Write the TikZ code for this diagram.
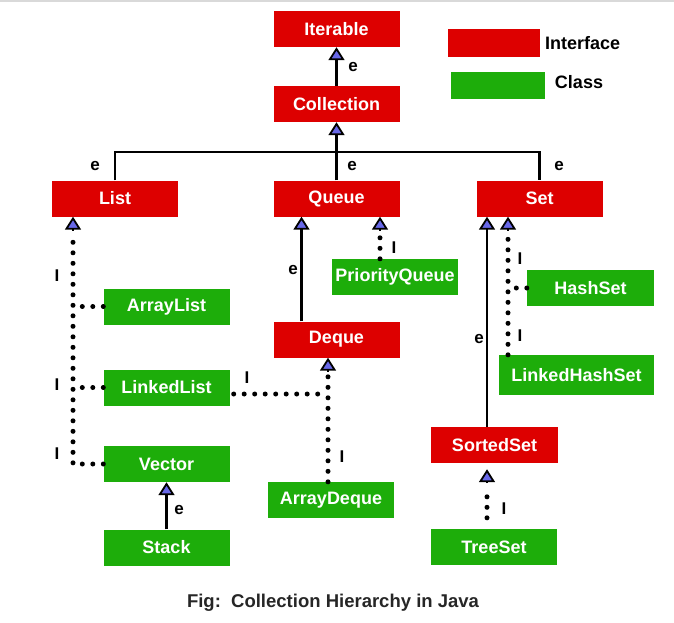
\documentclass[tikz,border=0pt]{standalone}
\usepackage{fontspec}
\setmainfont{Liberation Sans}
\usetikzlibrary{arrows.meta}

\definecolor{ifacered}{RGB}{221,0,0}
\definecolor{clsgreen}{RGB}{29,173,10}
\definecolor{triblue}{RGB}{104,104,232}

\tikzset{
  box/.style={draw=none, text=white, minimum width=126pt, minimum height=36pt,
    inner sep=0pt, font=\fontsize{18}{20}\selectfont\bfseries},
  iface/.style={box, fill=ifacered},
  cls/.style={box, fill=clsgreen},
  lbl/.style={inner sep=0pt, font=\fontsize{17}{19}\selectfont\bfseries},
  solidline/.style={line width=2.2pt},
  dotline/.style={line width=5pt, line cap=round, dash pattern=on 0pt off 10.5pt},
  tipline/.style={line width=1.8pt, -{Triangle[width=16pt,length=13pt,fill=triblue]}}
}

\begin{document}
\begin{tikzpicture}[x=1pt,y=-1pt]
\useasboundingbox (0,0) rectangle (674,622);

% thin rule at the top edge
\draw[black!15, line width=2pt] (0,1) -- (674,1);

% Top of the tree
\node[iface] (iter) at (336.5,29) {Iterable};
\node[iface] (coll) at (336.5,104) {Collection};

% Legend
\node[iface, minimum width=92pt, minimum height=28pt] (legi) at (494,43) {};
\node[lbl, anchor=west, font=\fontsize{18}{20}\selectfont\bfseries] (legitxt) at (545,43) {Interface};
\node[cls, minimum width=94pt, minimum height=27pt] (legc) at (498,85.5) {};
\node[lbl, font=\fontsize{18}{20}\selectfont\bfseries] (legctxt) at (579,82) {Class};

% Second level
\node[iface] (list) at (115,198.5) {List};
\node[iface] (queue) at (336.5,198.5) {Queue};
\node[iface] (set) at (539.5,198.5) {Set};

% List branch
\node[cls] (arraylist) at (166.5,306.5) {ArrayList};
\node[cls] (linkedlist) at (166.5,387.5) {LinkedList};
\node[cls] (vector) at (166.5,464) {Vector};
\node[cls] (stack) at (166.5,547.5) {Stack};

% Queue branch
\node[cls] (pqueue) at (395,277) {PriorityQueue};
\node[iface] (deque) at (336.5,339.5) {Deque};
\node[cls] (arraydeque) at (331,500) {ArrayDeque};

% Set branch
\node[cls, minimum width=127pt] (hashset) at (590.5,288) {HashSet};
\node[cls, minimum width=155pt, minimum height=40pt] (lhset) at (576.5,375) {LinkedHashSet};
\node[iface, minimum width=127pt] (sortedset) at (494.5,445) {SortedSet};
\node[cls] (treeset) at (494,547) {TreeSet};

% Caption
\node[lbl, font=\fontsize{18.5}{21}\selectfont\bfseries, text=black!85] (cap) at (333,603) {Fig:\ \ Collection Hierarchy in Java};

% Collection -> Iterable
\draw[solidline] (coll.north) -- ([yshift=-10pt]iter.south);
\draw[tipline] ([yshift=-14pt]iter.south) -- (iter.south);
\node[lbl] (e1) at (353,67) {e};

% List, Queue, Set -> Collection
\coordinate (bus) at (336.5,152);
\draw[solidline] (list.north) |- (bus) -| (set.north);
\draw[solidline] (queue.north) -- ([yshift=-10pt]coll.south);
\draw[tipline] ([yshift=-14pt]coll.south) -- (coll.south);
\node[lbl] (e2) at (95,166) {e};
\node[lbl] (e3) at (352,166) {e};
\node[lbl] (e4) at (559,166) {e};

% ArrayList, LinkedList, Vector -> List
\coordinate (lspine) at ([xshift=-42pt]list.south);
\draw[dotline] (vector.west) -| ([yshift=-19pt]lspine);
\draw[dotline] (arraylist.west) -- (lspine |- arraylist.west);
\draw[dotline] (linkedlist.west) -- (lspine |- linkedlist.west);
\draw[tipline] ([yshift=-14pt]lspine) -- (lspine);
\node[lbl] (i1) at (57,276) {I};
\node[lbl] (i2) at (57,385) {I};
\node[lbl] (i3) at (57,454) {I};

% Stack -> Vector
\draw[solidline] (stack.north) -- ([yshift=-10pt]vector.south);
\draw[tipline] ([yshift=-14pt]vector.south) -- (vector.south);
\node[lbl] (e5) at (179,510) {e};

% Deque -> Queue
\coordinate (qleft) at ([xshift=-35pt]queue.south);
\draw[solidline] (qleft |- deque.north) -- ([yshift=-10pt]qleft);
\draw[tipline] ([yshift=-14pt]qleft) -- (qleft);
\node[lbl] (e6) at (293,270) {e};

% PriorityQueue -> Queue
\coordinate (qright) at ([xshift=43.5pt]queue.south);
\draw[dotline] (qright |- pqueue.north) -- ([yshift=-19pt]qright);
\draw[tipline] ([yshift=-14pt]qright) -- (qright);
\node[lbl] (i4) at (394,248) {I};

% ArrayDeque, LinkedList -> Deque
\coordinate (dqin) at ([xshift=-8.5pt]deque.south);
\draw[dotline] (dqin |- arraydeque.north) -- ([yshift=-19pt]dqin);
\draw[tipline] ([yshift=-14pt]dqin) -- (dqin);
\coordinate (llout) at ([xshift=4pt,yshift=-6.5pt]linkedlist.east);
\coordinate (lljoin) at (dqin |- llout);
\draw[dotline] (llout) -- ([xshift=-8pt]lljoin);
\node[lbl] (i5) at (342,457) {I};
\node[lbl] (i6) at (247,378) {I};

% SortedSet -> Set
\coordinate (sleft) at ([xshift=-52.5pt]set.south);
\draw[solidline] (sleft |- sortedset.north) -- ([yshift=-10pt]sleft);
\draw[tipline] ([yshift=-14pt]sleft) -- (sleft);
\node[lbl] (e7) at (479,339) {e};

% HashSet, LinkedHashSet -> Set
\coordinate (sright) at ([xshift=-31.5pt]set.south);
\draw[dotline] (sright |- lhset.north) -- ([yshift=-19pt]sright);
\draw[tipline] ([yshift=-14pt]sright) -- (sright);
\draw[dotline] (hashset.west) -- ([xshift=7pt]sright |- hashset.west);
\node[lbl] (i7) at (520,259) {I};
\node[lbl] (i8) at (520,336) {I};

% TreeSet -> SortedSet
\coordinate (ssin) at ([xshift=-7.5pt,yshift=-6pt]sortedset.south);
\coordinate (tsout) at ([xshift=-7pt,yshift=11pt]treeset.north);
\draw[dotline] (tsout) -- ([yshift=-19pt]ssin);
\draw[tipline] ([yshift=-14pt]ssin) -- (ssin);
\node[lbl] (i9) at (504,509) {I};

\end{tikzpicture}
\end{document}
